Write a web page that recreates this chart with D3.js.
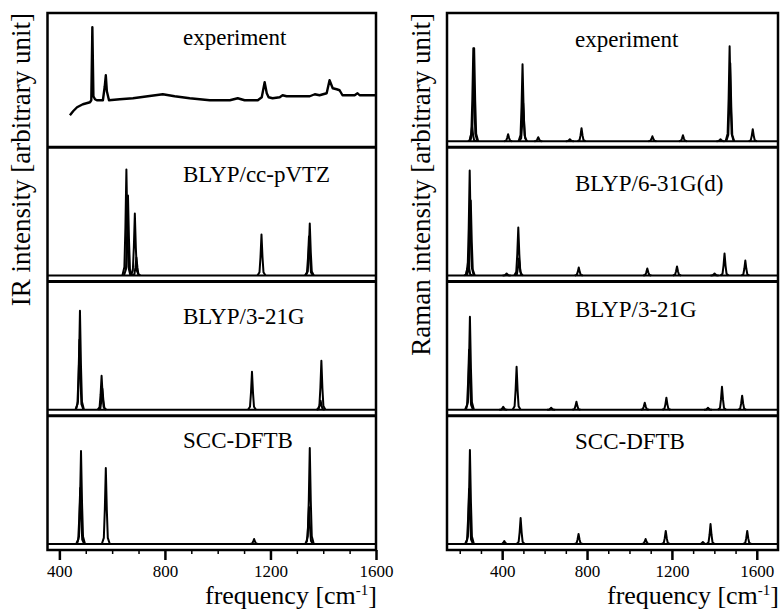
<!DOCTYPE html>
<html>
<head>
<meta charset="utf-8">
<script src="https://cdn.jsdelivr.net/npm/d3@7"></script>
<style>
  body { margin: 0; background: #fff; }
  svg { display: block; }
  text { font-family: "Liberation Serif", "Times New Roman", serif; fill: #000; }
</style>
</head>
<body>
<div id="chart"></div>
<script>
// values: frequency in cm-1, intensity in arbitrary units
const irLabels = ["experiment", "BLYP/cc-pVTZ", "BLYP/3-21G", "SCC-DFTB"];
const ramanLabels = ["experiment", "BLYP/6-31G(d)", "BLYP/3-21G", "SCC-DFTB"];
const freqTicks = [400, 800, 1200, 1600];

// measured IR trace, [frequency, intensity]
const irExperiment = [
  [440, 26], [452, 30], [467, 34], [489, 37], [516, 39], [521, 41], [525, 114],
  [529, 45], [535, 42], [542, 41], [565, 41], [572, 55], [576, 66], [580, 50],
  [588, 41], [629, 42], [679, 43], [735, 45], [792, 47], [837, 45], [894, 43],
  [970, 41], [1046, 41], [1076, 43], [1102, 41], [1152, 41], [1167, 44],
  [1178, 59], [1186, 48], [1193, 44], [1208, 43], [1235, 44], [1246, 46],
  [1261, 45], [1349, 45], [1368, 47], [1386, 46], [1413, 48], [1424, 61],
  [1436, 53], [1451, 52], [1462, 51], [1473, 46], [1519, 46], [1530, 48],
  [1538, 46], [1600, 46]
];

// line spectra, [frequency, peak height]
const irBlypCcpvtz = [[654, 106], [660, 80], [686, 62], [692, 18], [1166, 41], [1346, 39], [1349, 52]];
const irBlyp321g = [[476, 70], [478, 99], [560, 34], [563, 21], [1130, 38], [1390, 9], [1393, 49]];
const irSccDftb = [[479, 56], [482, 93], [576, 76], [1138, 5], [1346, 37], [1349, 96]];

const ramanExperiment = [
  [258, 15], [264, 93], [268, 93], [428, 7], [496, 77], [499, 38], [570, 4], [719, 2],
  [774, 13], [1108, 5], [1252, 6], [1429, 2], [1472, 95], [1475, 78], [1581, 12]
];
const ramanBlyp631gd = [
  [240, 15], [247, 105], [252, 75], [421, 2], [476, 48], [479, 17], [761, 8],
  [1084, 7], [1224, 9], [1401, 2], [1448, 22], [1546, 15]
];
const ramanBlyp321g = [
  [244, 60], [248, 93], [405, 3], [468, 43], [631, 2], [750, 8], [1072, 7],
  [1174, 12], [1370, 2], [1436, 23], [1531, 14]
];
const ramanSccDftb = [
  [244, 55], [248, 94], [410, 3], [487, 26], [760, 10], [1076, 5], [1171, 13],
  [1346, 2], [1382, 20], [1555, 13]
];

const width = 782, height = 612;
const plotTop = 13, plotBottom = 550;

const panels = [
  {
    left: 47.5, right: 376, domain: [355, 1600], minorFrom: 400,
    yLabel: "IR intensity [arbitrary unit]", yLabelX: 30,
    labels: irLabels, labelX: 183, labelDy: [32, 35, 42, 32],
    traces: [irExperiment, null, null, null],
    peaks: [null, irBlypCcpvtz, irBlyp321g, irSccDftb]
  },
  {
    left: 447, right: 778, domain: [140, 1700], minorFrom: 200,
    yLabel: "Raman intensity [arbitrary unit]", yLabelX: 430,
    labels: ramanLabels, labelX: 575, labelDy: [34, 44, 35, 33],
    traces: [null, null, null, null],
    peaks: [ramanExperiment, ramanBlyp631gd, ramanBlyp321g, ramanSccDftb]
  }
];

// pixel template of a single broadened line: [dx, fraction of height]
const spikeShape = [[-4, 0], [-2, 0.08], [-1, 0.45], [0, 1], [1, 0.45], [2, 0.08], [4, 0]];

const svg = d3.select("#chart")
  .append("svg")
  .attr("width", width)
  .attr("height", height);

const rowH = (plotBottom - plotTop) / 4;
const line = d3.line();

panels.forEach((p, pi) => {
  const x = d3.scaleLinear().domain(p.domain).range([p.left, p.right]);
  const clipId = "clip" + pi;

  svg.append("clipPath").attr("id", clipId)
    .append("rect")
    .attr("x", p.left).attr("y", plotTop)
    .attr("width", p.right - p.left).attr("height", plotBottom - plotTop);

  const plot = svg.append("g").attr("clip-path", `url(#${clipId})`);

  p.labels.forEach((lab, i) => {
    const rTop = plotTop + i * rowH, rBot = rTop + rowH;
    const y = d3.scaleLinear().domain([0, 100]).range([rBot - 6, rBot - 106]);

    if (p.traces[i]) {
      plot.append("path")
        .attr("d", d3.line().x(d => x(d[0])).y(d => y(d[1]))(p.traces[i]))
        .attr("fill", "none")
        .attr("stroke", "#000")
        .attr("stroke-width", 2.4)
        .attr("stroke-linejoin", "round");
    }
    if (p.peaks[i]) {
      plot.append("line")
        .attr("x1", x(p.domain[0])).attr("x2", x(p.domain[1]))
        .attr("y1", y(0)).attr("y2", y(0))
        .attr("stroke", "#000")
        .attr("stroke-width", 2);

      plot.selectAll(null)
        .data(p.peaks[i])
        .enter()
        .append("path")
        .attr("d", d => line(spikeShape.map(s => [x(d[0]) + s[0], y(d[1] * s[1])])))
        .attr("fill", "none")
        .attr("stroke", "#000")
        .attr("stroke-width", 2)
        .attr("stroke-linejoin", "round");
    }

    svg.append("text")
      .attr("x", p.labelX)
      .attr("y", rTop + p.labelDy[i])
      .attr("font-size", 23)
      .text(lab);

    if (i > 0) {
      svg.append("line")
        .attr("x1", p.left).attr("x2", p.right)
        .attr("y1", rTop).attr("y2", rTop)
        .attr("stroke", "#000")
        .attr("stroke-width", 3);
    }
  });

  svg.append("rect")
    .attr("x", p.left).attr("y", plotTop)
    .attr("width", p.right - p.left).attr("height", plotBottom - plotTop)
    .attr("fill", "none")
    .attr("stroke", "#000")
    .attr("stroke-width", 2.5);

  // minor ticks every 100 cm-1
  const minor = d3.range(p.minorFrom, p.domain[1] + 1, 100)
    .filter(v => !freqTicks.includes(v) && v > p.domain[0] && v < p.domain[1]);
  const gMinor = svg.append("g")
    .attr("transform", `translate(0,${plotBottom})`)
    .call(d3.axisBottom(x).tickValues(minor).tickSize(4).tickFormat(""));
  gMinor.select(".domain").remove();
  gMinor.selectAll(".tick line").attr("stroke-width", 1.5);

  const gAxis = svg.append("g")
    .attr("transform", `translate(0,${plotBottom})`)
    .call(d3.axisBottom(x).tickValues(freqTicks).tickSize(10).tickPadding(5).tickFormat(d3.format("d")));
  gAxis.select(".domain").remove();
  gAxis.selectAll(".tick line").attr("stroke-width", 2.5);
  gAxis.selectAll(".tick text")
    .attr("font-family", '"Liberation Serif", "Times New Roman", serif')
    .attr("font-size", 17);

  const title = svg.append("text")
    .attr("x", p.right + 1)
    .attr("y", 604)
    .attr("text-anchor", "end")
    .attr("font-size", 26);
  title.append("tspan").text("frequency [cm");
  title.append("tspan").attr("dy", -9).attr("font-size", 15).text("-1");
  title.append("tspan").attr("dy", 9).text("]");

  svg.append("text")
    .attr("transform", `translate(${p.yLabelX},${plotTop}) rotate(-90)`)
    .attr("text-anchor", "end")
    .attr("font-size", 27)
    .text(p.yLabel);
});
</script>
</body>
</html>
